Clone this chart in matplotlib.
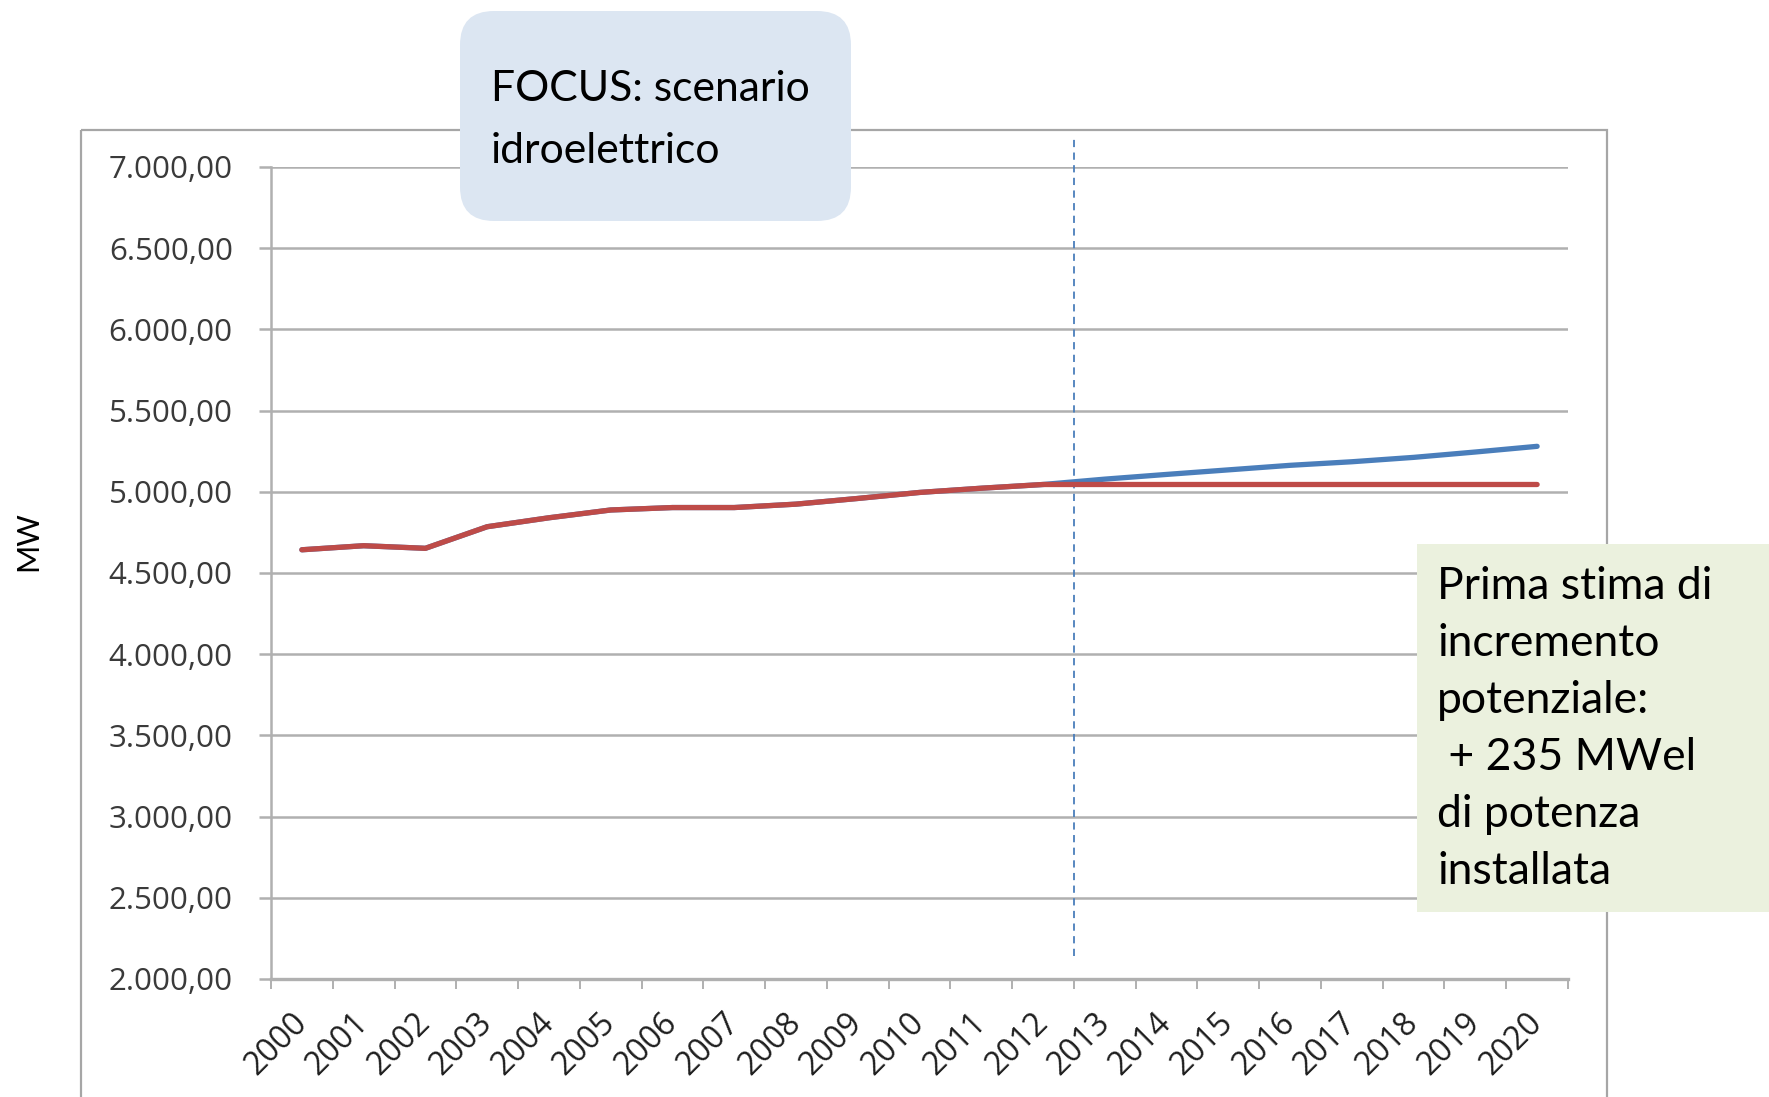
import matplotlib
matplotlib.use("Agg")
import matplotlib.pyplot as plt
from matplotlib.patches import FancyBboxPatch, Rectangle
from matplotlib.ticker import FixedLocator, FuncFormatter, NullFormatter

# --- data -------------------------------------------------------------
anni = list(range(2000, 2021))
# installed hydro capacity, MW (reference trend, flat after 2012)
potenza_base = [4643, 4668, 4652, 4785, 4840, 4888, 4903, 4903, 4924, 4959,
                4996, 5022, 5045, 5045, 5045, 5045, 5045, 5045, 5045, 5045,
                5045]
# scenario with potential increase after 2012
potenza_scenario = [4643, 4668, 4652, 4785, 4840, 4888, 4903, 4903, 4924, 4959,
                    4996, 5022, 5045, 5078, 5107, 5135, 5163, 5185, 5212, 5245,
                    5280]
y_ticks = [2000, 2500, 3000, 3500, 4000, 4500, 5000, 5500, 6000, 6500, 7000]
titolo_box = "FOCUS: scenario\nidroelettrico"
nota_box = "Prima stima di\nincremento\npotenziale:\n + 235 MWel\ndi potenza\ninstallata"
etichetta_y = "MW"

# --- figure -----------------------------------------------------------
W, H = 1769, 1097
fig = plt.figure(figsize=(W / 100, H / 100), dpi=100)

def px_axes(z):
    a = fig.add_axes([0, 0, 1, 1], zorder=z)
    a.set_xlim(0, W)
    a.set_ylim(H, 0)
    a.axis("off")
    a.patch.set_alpha(0)
    return a

bg = px_axes(-1)
bg.add_patch(Rectangle((81, 130), 1607 - 81, 1000, fill=False,
                       edgecolor="#a6a6a6", linewidth=1.6))

grid_col = "#b0b0b0"
ylab_col = "#3a3a3a"
xlab_col = "#1e1e1e"
tick_font = "Open Sans"

ax = fig.add_axes([271 / W, 1 - 979 / H, (1568 - 271) / W, (979 - 167) / H],
                  zorder=1)
ax.patch.set_alpha(0)
x = list(range(len(anni)))

ax.plot(x, potenza_scenario, color="#4a7ebb", linewidth=3.8,
        solid_capstyle="round", solid_joinstyle="round", zorder=3)
ax.plot(x, potenza_base, color="#be4b48", linewidth=3.8,
        solid_capstyle="round", solid_joinstyle="round", zorder=4)

# divider between historical data and projection
ax.plot([12.5, 12.5], [2140, 7195], color="#4a7ebb", linewidth=1.3,
        linestyle=(0, (4, 3)), clip_on=False, zorder=2)

ax.set_xlim(-0.5, len(anni) - 0.5)
ax.set_ylim(2000, 7000)

ax.set_yticks(y_ticks)
ax.yaxis.set_major_formatter(FuncFormatter(
    lambda v, p: f"{v:,.2f}".replace(",", "X").replace(".", ",").replace("X", ".")))
ax.grid(axis="y", color=grid_col, linewidth=1.8, zorder=0)
ax.set_axisbelow(True)

ax.xaxis.set_major_locator(FixedLocator([i - 0.5 for i in range(len(anni) + 1)]))
ax.xaxis.set_major_formatter(NullFormatter())
ax.xaxis.set_minor_locator(FixedLocator(x))
ax.set_xticklabels([str(a) for a in anni], minor=True)

ax.tick_params(axis="y", which="major", direction="out", length=8.5, width=1.8,
               color=grid_col, pad=19, labelsize=22.5, labelcolor=ylab_col)
ax.tick_params(axis="x", which="major", direction="out", length=7, width=1.4,
               color=grid_col)
ax.tick_params(axis="x", which="minor", length=0, pad=28, labelsize=23,
               labelcolor=xlab_col)
for lab in ax.get_xticklabels(minor=True):
    lab.set_rotation(45)
    lab.set_ha("right")
    lab.set_va("center")
    lab.set_rotation_mode("anchor")
    lab.set_fontfamily(tick_font)
for lab in ax.get_yticklabels():
    lab.set_fontfamily(tick_font)

for s in ("top", "right"):
    ax.spines[s].set_visible(False)
ax.spines["left"].set_color(grid_col)
ax.spines["left"].set_linewidth(1.8)
ax.spines["bottom"].set_color(grid_col)
ax.spines["bottom"].set_linewidth(2.4)

fig.text(28 / W, 1 - 541 / H, etichetta_y, rotation=90, ha="center",
         va="center", fontsize=22, family="Lato", color="black")

# --- callout boxes ----------------------------------------------------
fg = px_axes(5)
fg.add_patch(FancyBboxPatch((460, 11), 851 - 460, 221 - 11,
                            boxstyle="round,pad=0,rounding_size=34",
                            facecolor="#dce6f2", edgecolor="none"))
fg.text(491, 120, titolo_box, ha="left", va="center", fontsize=30.7,
        family="Lato", color="black", linespacing=1.8)

fg.add_patch(Rectangle((1417, 544), W - 1417, 912 - 544,
                       facecolor="#ebf1de", edgecolor="none"))
fg.text(1437, 729, nota_box, ha="left", va="center", fontsize=32,
        family="Lato", color="black", linespacing=1.48)

fig.savefig("out.png", dpi=100)
